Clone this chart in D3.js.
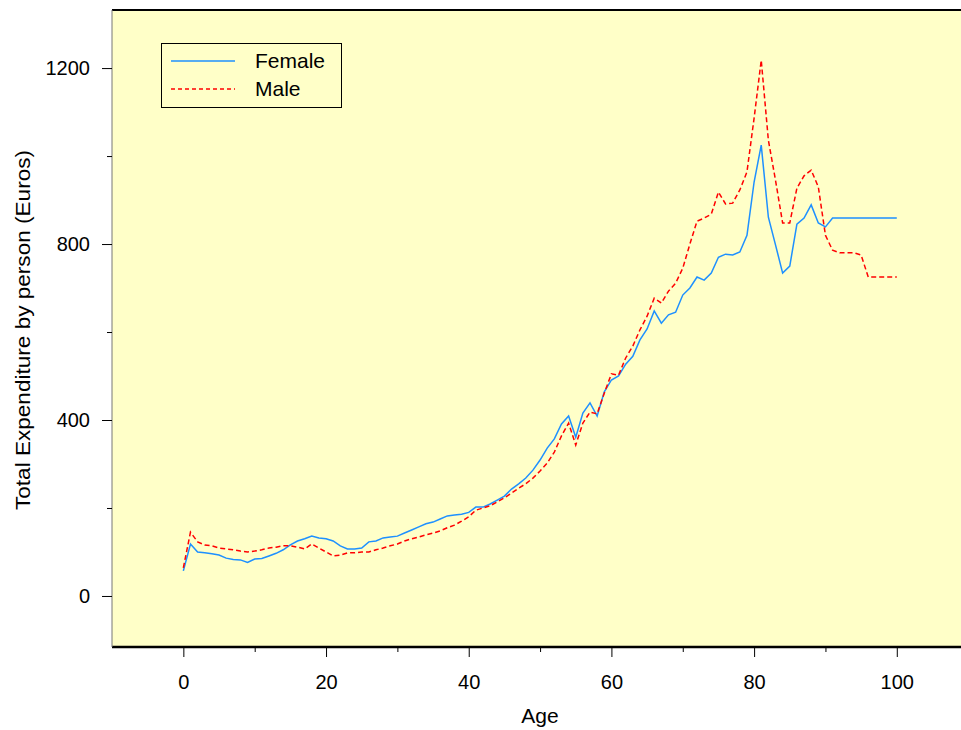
<!DOCTYPE html>
<html><head><meta charset="utf-8">
<script src="https://cdn.jsdelivr.net/npm/d3@7"></script>
<style>body{margin:0;background:#fff;}svg{display:block;font-family:"Liberation Sans",Arial,sans-serif;}</style>
</head><body>
<script>
const ages = d3.range(0, 101);
const female = [57,118,100,98,96,93,86,83,82,76,84,85,91,97,105,116,125,130,136,132,
  130,125,114,107,107,109,123,125,132,134,136,143,150,157,164,168,175,182,184,186,
  190,202,202,209,218,227,243,255,268,286,309,336,357,391,409,361,416,439,409,464,
  491,500,527,545,582,607,648,620,639,645,684,700,725,718,734,770,777,775,782,820,
  941,1025,861,798,734,750,845,859,889,848,839,859,859,859,859,859,859,859,859,859,859];
const male = [64,145,123,116,114,109,107,105,102,100,102,105,109,111,114,114,111,107,118,109,
  100,91,93,98,98,100,100,105,109,114,118,125,130,134,139,143,148,155,161,170,
  180,195,200,205,214,223,234,245,255,268,284,302,327,364,393,343,393,418,414,461,
  505,502,541,568,605,636,677,666,693,711,745,800,852,859,868,918,891,893,923,964,
  1086,1218,1036,945,848,848,927,955,968,930,820,786,780,780,780,775,725,725,725,725,725];
const xTicks = [0,20,40,60,80,100];
const xMinor = [10,30,50,70,90];
const yTicks = [0,400,800,1200];
const yMinor = [200,600,1000];
const seriesNames = ["Female","Male"];
const seriesColors = ["#1e90ff","#ff0000"];

const W = 961, H = 730;
const L = 112, T = 10, R = 961, B = 647;
const svg = d3.select("body").append("svg").attr("width", W).attr("height", H);
const x = d3.scaleLinear().domain([-10, 109]).range([L, R]);
const y = d3.scaleLinear().domain([-116, 1332]).range([B, T]);

svg.append("rect").attr("x", L).attr("y", T).attr("width", R - L).attr("height", B - T).attr("fill", "#ffffc8");

const clip = svg.append("clipPath").attr("id", "c").append("rect").attr("x", L).attr("y", T).attr("width", R - L).attr("height", B - T);
const g = svg.append("g").attr("clip-path", "url(#c)");
const line = d3.line().x((d, i) => x(ages[i])).y(d => y(d));
g.append("path").datum(female).attr("d", line).attr("fill", "none").attr("stroke", seriesColors[0]).attr("stroke-width", 1.5);
g.append("path").datum(male).attr("d", line).attr("fill", "none").attr("stroke", seriesColors[1]).attr("stroke-width", 1.5).attr("stroke-dasharray", "5,3");

// frame
svg.append("line").attr("x1", L).attr("x2", R).attr("y1", T).attr("y2", T).attr("stroke", "#000").attr("stroke-width", 2);
svg.append("line").attr("x1", L).attr("x2", R).attr("y1", B).attr("y2", B).attr("stroke", "#000").attr("stroke-width", 2.5);
svg.append("line").attr("x1", L).attr("x2", L).attr("y1", T).attr("y2", B).attr("stroke", "#777").attr("stroke-width", 1);

// x axis
const xa = svg.append("g").attr("transform", `translate(0,${B})`)
  .call(d3.axisBottom(x).tickValues(xTicks).tickSize(10).tickPadding(18).tickFormat(d3.format("d")));
xa.select(".domain").remove();
xa.selectAll("text").attr("font-size", 20).attr("fill", "#000").attr("font-family", "Liberation Sans, Arial, sans-serif");
const xm = svg.append("g").attr("transform", `translate(0,${B})`)
  .call(d3.axisBottom(x).tickValues(xMinor).tickSize(5).tickFormat(""));
xm.select(".domain").remove();

// y axis
const ya = svg.append("g").attr("transform", `translate(${L},0)`)
  .call(d3.axisLeft(y).tickValues(yTicks).tickSize(10).tickPadding(12).tickFormat(d3.format("d")));
ya.select(".domain").remove();
ya.selectAll("text").attr("font-size", 20).attr("fill", "#000").attr("font-family", "Liberation Sans, Arial, sans-serif");
const ym = svg.append("g").attr("transform", `translate(${L},0)`)
  .call(d3.axisLeft(y).tickValues(yMinor).tickSize(5).tickFormat(""));
ym.select(".domain").remove();

svg.append("text").attr("x", 540).attr("y", 723).attr("text-anchor", "middle").attr("font-size", 21).text("Age");
svg.append("text").attr("transform", "translate(30,330) rotate(-90)").attr("text-anchor", "middle").attr("font-size", 21)
  .attr("textLength", 360).attr("lengthAdjust", "spacingAndGlyphs")
  .text("Total Expenditure by person (Euros)");

// legend
const lg = svg.append("g");
lg.append("rect").attr("x", 161.5).attr("y", 43.5).attr("width", 180).attr("height", 64).attr("fill", "#ffffc8").attr("stroke", "#000").attr("stroke-width", 1);
seriesNames.forEach((n, i) => {
  const yy = 61 + i * 28;
  lg.append("line").attr("x1", 171).attr("x2", 235).attr("y1", yy).attr("y2", yy)
    .attr("stroke", seriesColors[i]).attr("stroke-width", 1.5).attr("stroke-dasharray", i ? "4,3" : null);
  lg.append("text").attr("x", 255).attr("y", yy + 7).attr("font-size", 21).text(n);
});
</script>
</body></html>
